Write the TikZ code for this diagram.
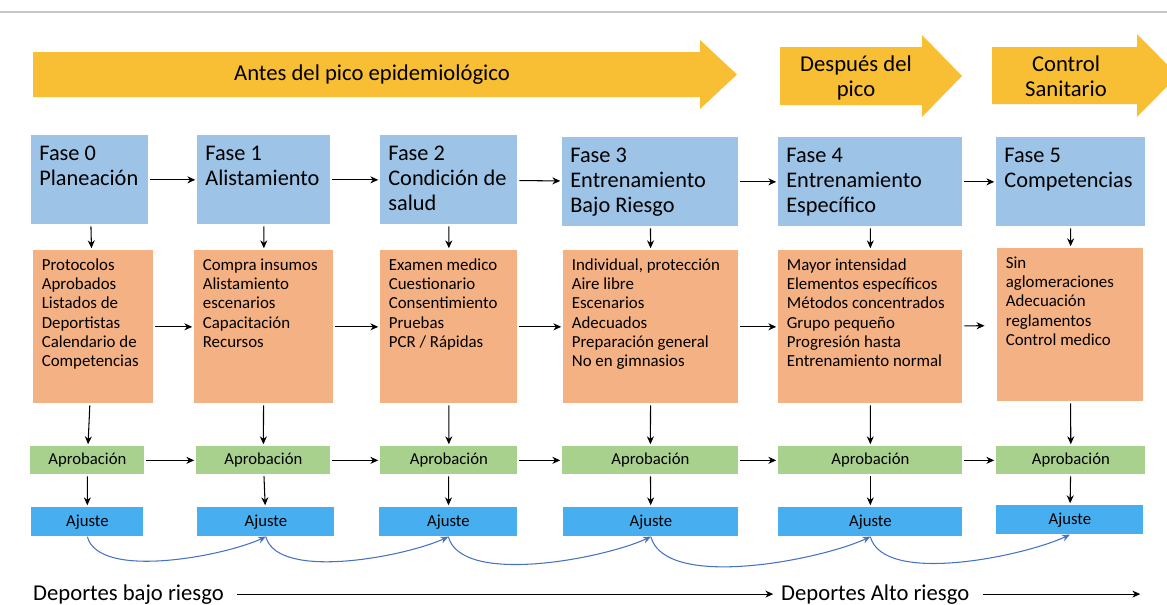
\documentclass[tikz,border=0pt]{standalone}
\usepackage{fontspec}
\setmainfont{Carlito}
\usetikzlibrary{arrows.meta, positioning}
\definecolor{bannerorange}{HTML}{F8BF34}
\definecolor{phaseblue}{HTML}{9DC3E6}
\definecolor{itemorange}{HTML}{F4B183}
\definecolor{okgreen}{HTML}{A9D18E}
\definecolor{fixblue}{HTML}{47AEF0}
\definecolor{loopblue}{HTML}{4472C4}

\begin{document}
\begin{tikzpicture}[x=0.02cm, y=-0.02cm]
	% Define style
	\tikzset{
		phase/.style={rectangle, anchor=north west, fill=phaseblue, inner xsep=0.16cm, inner ysep=0.1cm, text height=0.4cm, text depth=1.18cm, align=flush left, font=\fontsize{12.7}{14.2}\selectfont},
		task/.style={rectangle, anchor=north west, fill=itemorange, inner xsep=0.17cm, inner ysep=0.1cm, text height=0.3cm, text depth=2.56cm, align=flush left, font=\fontsize{9.6}{10.95}\selectfont},
		approve/.style={rectangle, anchor=north west, fill=okgreen, minimum height=0.56cm, inner sep=0pt, font=\fontsize{9.5}{11}\selectfont},
		adjust/.style={rectangle, anchor=north west, fill=fixblue, minimum height=0.58cm, inner sep=0pt, font=\fontsize{9.5}{11}\selectfont},
		banner/.style={fill=bannerorange},
		title/.style={align=center, font=\fontsize{12.9}{14.2}\selectfont},
		arrow/.style={->, >={Stealth[length=4.5pt, width=4pt]}, line width=0.6pt, shorten <=1pt, shorten >=1pt},
		loop/.style={->, >={Stealth[length=4.5pt, width=4pt]}, draw=loopblue, line width=0.6pt, out=-75, in=-155, looseness=0.65}
	}
	\useasboundingbox (0,0) rectangle (1167,605);
	\draw[gray!45, line width=0.6pt] (0,12) -- (1167,12);

	% Define banners
	\fill[banner] (33,52) -- (700,52) -- (700,40) -- (737,74.5) -- (700,109) -- (700,97) -- (33,97) -- cycle;
	\fill[banner] (780,47) -- (922,47) -- (922,35) -- (962,76) -- (922,117) -- (922,105) -- (780,105) -- cycle;
	\fill[banner] (992,47) -- (1137,47) -- (1137,34) -- (1178,75.5) -- (1137,117) -- (1137,104) -- (992,104) -- cycle;
	\node (before) [title] at (372,75) {Antes del pico epidemiológico};
	\node (after) [title] at (856,78) {Después del\\pico};
	\node (sanitary) [title] at (1066,76) {Control\\Sanitario};

	% Define blocks
	\node (f0) [phase, text width=2.02cm] at (31,135) {Fase 0\\Planeación};
	\node (f1) [phase, text width=2.34cm] at (197,135) {Fase 1\\Alistamiento};
	\node (f2) [phase, text width=2.42cm] at (380,135) {Fase 2\\Condición de\\salud};
	\node (f3) [phase, text width=3.2cm] at (562,137) {Fase 3\\Entrenamiento\\Bajo Riesgo};
	\node (f4) [phase, text width=3.36cm] at (778,137) {Fase 4\\Entrenamiento\\Específico};
	\node (f5) [phase, text width=2.66cm] at (996,137) {Fase 5\\Competencias};

	\node (o0) [task, text width=2.06cm] at (33,250) {Protocolos\\Aprobados\\Listados de\\Deportistas\\Calendario de\\Competencias};
	\node (o1) [task, text width=2.44cm] at (194,250) {Compra insumos\\Alistamiento\\escenarios\\Capacitación\\Recursos};
	\node (o2) [task, text width=2.40cm] at (380,250) {Examen medico\\Cuestionario\\Consentimiento\\Pruebas\\PCR / Rápidas};
	\node (o3) [task, text width=3.16cm] at (563,250) {Individual, protección\\Aire libre\\Escenarios\\Adecuados\\Preparación general\\No en gimnasios};
	\node (o4) [task, text width=3.34cm] at (778,250) {Mayor intensidad\\Elementos específicos\\Métodos concentrados\\Grupo pequeño\\Progresión hasta\\Entrenamiento normal};
	\node (o5) [task, text width=2.58cm] at (997,248) {Sin\\aglomeraciones\\Adecuación\\reglamentos\\Control medico};

	\node (g0) [approve, minimum width=2.28cm] at (30,446) {Aprobación};
	\node (g1) [approve, minimum width=2.68cm] at (196,446) {Aprobación};
	\node (g2) [approve, minimum width=2.74cm] at (380,446) {Aprobación};
	\node (g3) [approve, minimum width=3.52cm] at (562,446) {Aprobación};
	\node (g4) [approve, minimum width=3.68cm] at (778,446) {Aprobación};
	\node (g5) [approve, minimum width=2.98cm] at (996,446) {Aprobación};

	\node (a0) [adjust, minimum width=2.24cm] at (31,507) {Ajuste};
	\node (a1) [adjust, minimum width=2.74cm] at (197,507) {Ajuste};
	\node (a2) [adjust, minimum width=2.76cm] at (379,507) {Ajuste};
	\node (a3) [adjust, minimum width=3.5cm] at (563,507) {Ajuste};
	\node (a4) [adjust, minimum width=3.68cm] at (778,507) {Ajuste};
	\node (a5) [adjust, minimum width=2.94cm] at (996,505) {Ajuste};

	\node (low) [anchor=base west, font=\fontsize{12.9}{14}\selectfont] at (27,600) {Deportes bajo riesgo};
	\node (high) [anchor=base west, font=\fontsize{12.9}{14}\selectfont] at (775,600) {Deportes Alto riesgo};
	\coordinate (end) at (1142,595);

	% Define arrows
	\draw [arrow] (f0) -- (f1);
	\draw [arrow] (f1) -- (f2);
	\draw [arrow] (f2) -- (f3);
	\draw [arrow] (f3) -- (f4);
	\draw [arrow] (f4) -- (f5);
	\draw [arrow] (o0) -- (o1);
	\draw [arrow] (o1) -- (o2);
	\draw [arrow] (o2) -- (o3);
	\draw [arrow] (o3) -- (o4);
	\draw [arrow, shorten >=0.25cm] (o4) -- (o5);
	\draw [arrow] (g0) -- (g1);
	\draw [arrow] (g1) -- (g2);
	\draw [arrow] (g2) -- (g3);
	\draw [arrow] (g3) -- (g4);
	\draw [arrow] (g4) -- (g5);

	\draw [arrow] (f0) -- (o0);
	\draw [arrow] (f1) -- (o1);
	\draw [arrow] (f2) -- (o2);
	\draw [arrow] (f3) -- (o3);
	\draw [arrow] (f4) -- (o4);
	\draw [arrow] (f5) -- (o5);
	\draw [arrow] (o0) -- (g0);
	\draw [arrow] (o1) -- (g1);
	\draw [arrow] (o2) -- (g2);
	\draw [arrow] (o3) -- (g3);
	\draw [arrow] (o4) -- (g4);
	\draw [arrow] (o5) -- (g5);
	\draw [arrow] (g0) -- (a0);
	\draw [arrow] (g1) -- (a1);
	\draw [arrow] (g2) -- (a2);
	\draw [arrow] (g3) -- (a3);
	\draw [arrow] (g4) -- (a4);
	\draw [arrow] (g5) -- (a5);

	\draw [loop] (a0.south) to (a1.south);
	\draw [loop] (a1.south) to (a2.south);
	\draw [loop] (a2.south) to (a3.south);
	\draw [loop] (a3.south) to (a4.south);
	\draw [loop] (a4.south) to (a5.south);

	\draw [arrow, shorten <=4pt] (low) -- (high);
	\draw [arrow, shorten <=4pt] (high.east) -- (high.east -| end);
\end{tikzpicture}
\end{document}
